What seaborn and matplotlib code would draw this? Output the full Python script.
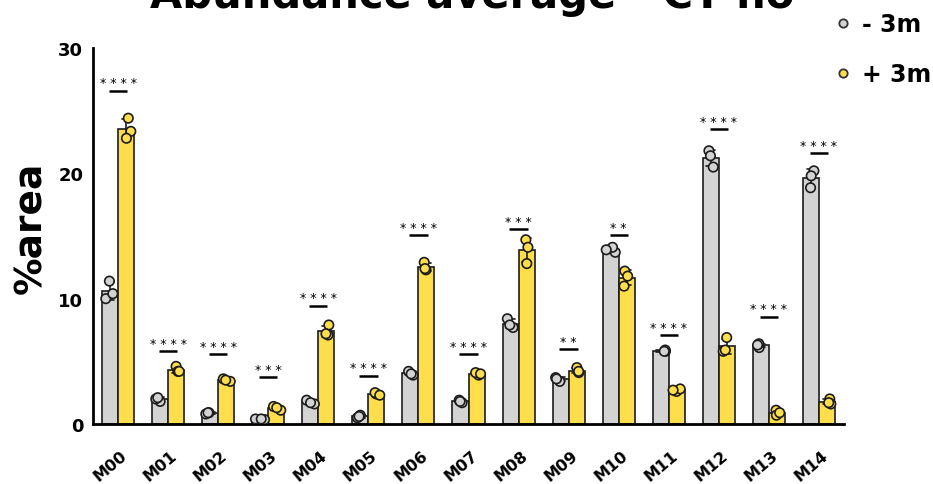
import warnings

import numpy as np
import pandas as pd
import matplotlib
matplotlib.use("Agg")
import matplotlib.pyplot as plt
import matplotlib.transforms as mtransforms
from matplotlib.collections import PathCollection
from matplotlib.lines import Line2D
import seaborn as sns

warnings.filterwarnings("ignore")
np.random.seed(7)

# ---- data -------------------------------------------------------------
modules = ["M00", "M01", "M02", "M03", "M04", "M05", "M06", "M07",
           "M08", "M09", "M10", "M11", "M12", "M13", "M14"]
groups = ["- 3m", "+ 3m"]

# three replicates per module (% area)
minus_3m = [
    [10.0, 10.4, 11.4],
    [1.8, 2.0, 2.1],
    [0.9, 0.8, 0.9],
    [0.35, 0.4, 0.4],
    [1.6, 1.9, 1.7],
    [0.5, 0.7, 0.6],
    [3.9, 4.2, 4.0],
    [1.7, 1.9, 1.8],
    [8.4, 7.7, 7.9],
    [3.4, 3.7, 3.6],
    [13.7, 14.1, 13.9],
    [5.8, 5.9, 5.8],
    [21.8, 21.4, 20.5],
    [6.1, 6.4, 6.3],
    [20.2, 19.8, 18.85],
]
plus_3m = [
    [24.4, 23.35, 22.8],
    [4.6, 4.2, 4.2],
    [3.4, 3.6, 3.5],
    [1.1, 1.4, 1.3],
    [7.9, 7.1, 7.2],
    [2.4, 2.5, 2.3],
    [12.9, 12.3, 12.4],
    [3.9, 4.1, 4.0],
    [14.7, 14.1, 12.8],
    [4.1, 4.5, 4.2],
    [12.2, 11.8, 11.0],
    [2.6, 2.8, 2.7],
    [6.9, 5.8, 5.9],
    [1.1, 0.7, 0.9],
    [2.0, 1.6, 1.7],
]

significance = ["****", "****", "****", "***", "****", "****", "****", "****",
                "***", "**", "**", "****", "****", "****", "****"]
bracket_y = [26.6, 5.85, 5.6, 3.73, 9.45, 3.86, 15.04, 5.59,
             15.57, 5.99, 15.04, 7.1, 23.56, 8.57, 21.64]

y_ticks = [0, 10, 20, 30]

# ---- tidy frame ---------------------------------------------------------
rows = []
for grp, reps in zip(groups, [minus_3m, plus_3m]):
    for mod, vals in zip(modules, reps):
        for v in vals:
            rows.append({"module": mod, "group": grp, "area": v})
df = pd.DataFrame(rows)

GRAY = "#D3D3D3"
YELLOW = "#FFDE4C"
EDGE = "#1c1c1c"
palette = {groups[0]: GRAY, groups[1]: YELLOW}
BAR_WIDTH = 0.64

sns.set_style("white")
plt.rcParams.update({
    "font.family": ["DejaVu Sans"],
    "text.color": "black",
    "axes.labelcolor": "black",
    "xtick.color": "black",
    "ytick.color": "black",
})

W, H = 933, 485
fig = plt.figure(figsize=(W / 100, H / 100), dpi=100)
ax = fig.add_axes([93 / W, 1 - 425 / H, (844 - 93) / W, (425 - 49) / H])

sns.barplot(data=df, x="module", y="area", hue="group", order=modules,
            hue_order=groups, palette=palette, width=BAR_WIDTH, errorbar="sd",
            capsize=0.35, err_kws={"color": EDGE, "linewidth": 1.2},
            edgecolor=EDGE, linewidth=1.2, saturation=1, ax=ax, legend=False)

n_before = len(ax.collections)
sns.stripplot(data=df, x="module", y="area", hue="group", order=modules,
              hue_order=groups, palette=palette, dodge=True, jitter=0.25,
              size=6.8, edgecolor=EDGE, linewidth=1.2, ax=ax, legend=False,
              zorder=4)

# stripplot dodges on a 0.8-wide slot; pull the dots onto the narrower bars
scale = BAR_WIDTH / 0.8
for coll in ax.collections[n_before:]:
    if isinstance(coll, PathCollection):
        off = coll.get_offsets()
        if len(off):
            off = np.asarray(off, dtype=float)
            centre = np.round(off[:, 0])
            off[:, 0] = centre + (off[:, 0] - centre) * scale
            coll.set_offsets(off)

ax.set_xlim(-0.5, len(modules) - 0.5)
ax.set_ylim(0, 30)
ax.set_yticks(y_ticks)
ax.set_yticklabels([str(t) for t in y_ticks], fontweight="bold", fontsize=13)
ax.set_xlabel("")
ax.set_ylabel("")

for side in ["top", "right"]:
    ax.spines[side].set_visible(False)
for side in ["left", "bottom"]:
    ax.spines[side].set_linewidth(2.0)
    ax.spines[side].set_color("black")

ax.tick_params(axis="y", length=5, width=2.0, pad=2)
ax.tick_params(axis="x", length=5, width=2.0, pad=16)
shift = mtransforms.ScaledTranslation(7 / 100, 0, fig.dpi_scale_trans)
for lbl in ax.get_xticklabels():
    lbl.set_rotation(40)
    lbl.set_ha("right")
    lbl.set_va("center")
    lbl.set_rotation_mode("anchor")
    lbl.set_fontweight("bold")
    lbl.set_fontsize(11.5)
    lbl.set_transform(lbl.get_transform() + shift)

# significance marks
half = 0.183
for i, (txt, yb) in enumerate(zip(significance, bracket_y)):
    ax.plot([i - half, i + half], [yb, yb], color="black", lw=1.8,
            solid_capstyle="butt", zorder=5, clip_on=False)
    ax.annotate(" ".join(txt), xy=(i, yb), xytext=(0, 3),
                textcoords="offset points", ha="center", va="baseline",
                fontsize=9, color="black", annotation_clip=False)

# title and y label
fig.text(472 / W, 1 - 8 / H, "Abundance average - CT no", ha="center",
         va="baseline", fontsize=30, fontweight="bold")
fig.text(31 / W, 1 - 228 / H, "%area", rotation=90, ha="center",
         va="center", fontsize=27, fontweight="bold")

handles = [
    Line2D([], [], marker="o", linestyle="", markersize=6,
           markerfacecolor=palette[g], markeredgecolor="#333333",
           markeredgewidth=1.3, label=g)
    for g in groups
]
fig.legend(handles=handles, loc="upper left",
           bbox_to_anchor=(831 / W, 1 - 13 / H), frameon=False,
           prop={"weight": "bold", "size": 17}, handletextpad=0.3,
           labelspacing=1.1, handlelength=1.0, borderpad=0,
           borderaxespad=0)

fig.savefig("out.png", dpi=100)
